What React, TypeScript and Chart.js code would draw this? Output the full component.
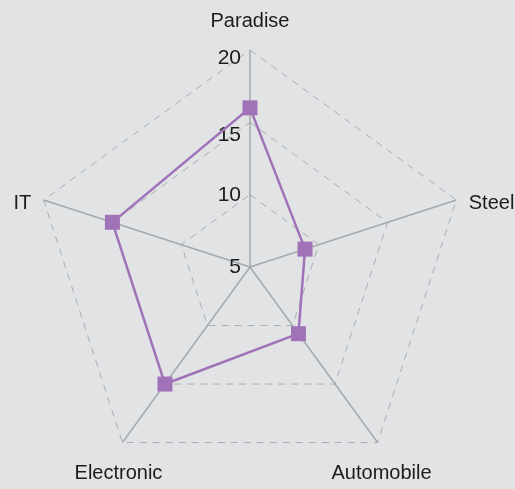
import React, { useEffect, useRef } from "react";
import { Chart, registerables } from "chart.js";

Chart.register(...registerables);

const categories = ["Paradise", "Steel", "Automobile", "Electronic", "IT"];
const seriesValues = [16, 9, 10.7, 15, 15];
const tickValues = [5, 10, 15, 20];

const BG = "#e1e3e5";
const PURPLE = "#a072b8";
const TEXT = "#1c1c1c";
const FONT = "'Liberation Sans', Arial, sans-serif";

const tickLabelShift = (i: number, n: number) =>
  i === 0 ? 0 : i === n - 1 ? 8 : i === n - 2 ? 13 : 1;

const labelPlugin = {
  id: "customLabels",
  beforeDatasetsDraw(chart: any) {
    const scale = chart.scales.r;
    const ctx = chart.ctx;
    ctx.save();
    ctx.fillStyle = TEXT;
    ctx.font = `21px ${FONT}`;
    ctx.textAlign = "right";
    ctx.textBaseline = "middle";
    tickValues.forEach((v, i) => {
      const r = scale.getDistanceFromCenterForValue(v);
      const y = scale.yCenter - r + tickLabelShift(i, tickValues.length);
      ctx.fillText(String(v), scale.xCenter - 9, y);
    });
    ctx.restore();
  },
  afterDraw(chart: any) {
    const scale = chart.scales.r;
    const ctx = chart.ctx;
    const R = scale.drawingArea;
    ctx.save();
    ctx.fillStyle = TEXT;
    ctx.font = `20px ${FONT}`;
    categories.forEach((name, i) => {
      const v = scale.getPointPosition(i, R);
      const dx = v.x - scale.xCenter;
      const dy = v.y - scale.yCenter;
      if (Math.abs(dx) < 1) {
        const p = scale.getPointPosition(i, R + 19);
        ctx.textAlign = "center";
        ctx.textBaseline = "bottom";
        ctx.fillText(name, p.x, p.y);
      } else if (dy > 0) {
        const p = scale.getPointPosition(i, R + 26);
        ctx.textAlign = "center";
        ctx.textBaseline = "top";
        ctx.fillText(name, v.x + (dx < 0 ? -4 : 4), p.y);
      } else {
        const p = scale.getPointPosition(i, R + 13);
        ctx.textAlign = dx > 0 ? "left" : "right";
        ctx.textBaseline = "top";
        ctx.fillText(name, p.x, p.y - 2);
      }
    });
    ctx.restore();
  },
};

export default function App() {
  const ref = useRef<HTMLCanvasElement>(null);
  useEffect(() => {
    if (!ref.current) return;
    const chart = new Chart(ref.current, {
      type: "radar",
      data: {
        labels: categories,
        datasets: [
          {
            data: seriesValues,
            borderColor: PURPLE,
            backgroundColor: PURPLE,
            borderWidth: 2.5,
            fill: false,
            pointStyle: "rect",
            pointRadius: 10.6,
            pointHoverRadius: 10.6,
            pointBorderWidth: 0,
            pointBackgroundColor: PURPLE,
          },
        ],
      },
      options: {
        animation: false,
        responsive: true,
        maintainAspectRatio: false,
        layout: { padding: { left: 33, right: 47, top: 50, bottom: 4 } },
        plugins: { legend: { display: false }, tooltip: { enabled: false } },
        scales: {
          r: {
            min: 5,
            max: 20,
            ticks: { display: false, stepSize: 5 },
            pointLabels: { display: false },
            grid: { color: "#a9aeb2", lineWidth: 1 },
            border: { dash: [7, 6] },
            angleLines: { color: "#a4a9ad", lineWidth: 1.5 },
          },
        },
      },
      plugins: [labelPlugin],
    });
    return () => chart.destroy();
  }, []);
  return (
    <div
      style={{
        position: "absolute",
        left: 0,
        top: 0,
        width: 515,
        height: 489,
        background: BG,
      }}
    >
      <canvas ref={ref} />
    </div>
  );
}
